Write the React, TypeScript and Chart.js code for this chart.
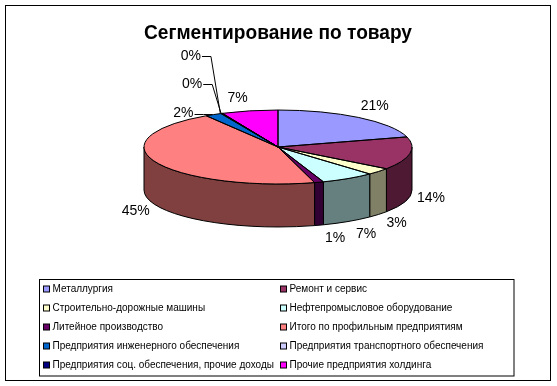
import { useEffect, useRef } from "react";
import { Chart, registerables } from "chart.js";

Chart.register(...registerables);

const titleText = "Сегментирование по товару";
const categories = [
  "Металлургия",
  "Ремонт и сервис",
  "Строительно-дорожные машины",
  "Нефтепромысловое оборудование",
  "Литейное производство",
  "Итого по профильным предприятиям",
  "Предприятия инженерного обеспечения",
  "Предприятия транспортного обеспечения",
  "Предприятия соц. обеспечения, прочие доходы",
  "Прочие предприятия холдинга",
];
const shares = [20.6, 14.4, 3.0, 6.5, 1.1, 45.4, 2.0, 0.1, 0.1, 6.8];
const topColors = ["#9999FF", "#993366", "#FFFFCC", "#CCFFFF", "#660066", "#FF8080", "#0066CC", "#CCCCFF", "#000080", "#FF00FF"];
const wallColors = ["#4D4D80", "#4D1933", "#808066", "#668080", "#330033", "#804040", "#003366", "#666680", "#000040", "#800080"];

// Label placement relative to the slice's rim point
const labelOffsets = [[16, -11], [21, 2], [18, 9], [18, 13], [16, 12.5], [-20, 6], [-30, -1], [-30.5, -57], [-30, -29], [-12, -13]];
const labelLeaders = [false, false, false, false, false, false, true, true, true, false];

const PIE_CY = 147;
const FLATTEN = 0.276;
const WALL = 43;
const FONT = '"Liberation Sans", Arial, sans-serif';

const norm = (a: number) => {
  const t = Math.PI * 2;
  return ((a % t) + t) % t;
};

const pie3d = {
  id: "pie3d",
  beforeDatasetsDraw(chart: any) {
    const { ctx } = chart;
    const arcs = chart.getDatasetMeta(0).data;
    ctx.save();
    ctx.strokeStyle = "#000";
    ctx.lineWidth = 1;
    arcs.forEach((arc: any, i: number) => {
      const r = arc.outerRadius;
      const cx = arc.x;
      // visible wall: angles 0..PI (arc angles run from -PI/2 to 3PI/2)
      const s = Math.max(arc.startAngle, 0);
      const e = Math.min(arc.endAngle, Math.PI);
      if (e <= s) return;
      ctx.beginPath();
      ctx.ellipse(cx, PIE_CY, r, r * FLATTEN, 0, s, e);
      ctx.ellipse(cx, PIE_CY + WALL, r, r * FLATTEN, 0, e, s, true);
      ctx.closePath();
      ctx.fillStyle = wallColors[i];
      ctx.fill();
      ctx.stroke();
    });
    ctx.restore();

    const first = arcs[0];
    ctx.save();
    ctx.translate(0, PIE_CY);
    ctx.scale(1, FLATTEN);
    ctx.translate(0, -first.y);
  },
  afterDatasetsDraw(chart: any) {
    const { ctx } = chart;
    ctx.restore();
    const arcs = chart.getDatasetMeta(0).data;
    ctx.save();
    ctx.strokeStyle = "#000";
    ctx.lineWidth = 1;
    arcs.forEach((arc: any) => {
      const r = arc.outerRadius;
      ctx.beginPath();
      ctx.moveTo(arc.x, PIE_CY);
      ctx.ellipse(arc.x, PIE_CY, r, r * FLATTEN, 0, arc.startAngle, arc.endAngle);
      ctx.closePath();
      ctx.stroke();
    });

    // percentage labels
    ctx.font = `14px ${FONT}`;
    ctx.fillStyle = "#000";
    ctx.textAlign = "center";
    ctx.textBaseline = "middle";
    arcs.forEach((arc: any, i: number) => {
      const mid = (arc.startAngle + arc.endAngle) / 2;
      const r = arc.outerRadius;
      const ex = arc.x + r * Math.cos(mid);
      const ey = PIE_CY + r * FLATTEN * Math.sin(mid);
      const lower = norm(mid) < Math.PI;
      const ax = ex + labelOffsets[i][0];
      const ay = ey + (lower ? WALL : 0) + labelOffsets[i][1];
      ctx.fillText(`${Math.round(shares[i])}%`, ax, ay);
      if (labelLeaders[i]) {
        const hw = ctx.measureText(`${Math.round(shares[i])}%`).width / 2;
        ctx.beginPath();
        ctx.moveTo(ax + hw + 1, Math.round(ay) + 0.5);
        ctx.lineTo(ax + hw + 10, Math.round(ay) + 0.5);
        ctx.lineTo(ex - 1, ey);
        ctx.stroke();
      }
    });
    ctx.restore();
  },
  afterDraw(chart: any) {
    const { ctx } = chart;
    ctx.save();
    ctx.strokeStyle = "#000";
    ctx.lineWidth = 1;
    ctx.strokeRect(5.5, 5.5, 545, 375);
    ctx.strokeRect(39.5, 279.5, 474.5, 96.5);
    ctx.font = `10px ${FONT}`;
    ctx.textAlign = "left";
    ctx.textBaseline = "middle";
    (chart.data.labels as string[]).forEach((label, i) => {
      const col = i % 2;
      const row = Math.floor(i / 2);
      const x = col === 0 ? 43.5 : 280.5;
      const y = 289.5 + row * 19;
      ctx.fillStyle = topColors[i];
      ctx.fillRect(x, y - 3.5, 6, 6);
      ctx.strokeRect(x, y - 3.5, 6, 6);
      ctx.fillStyle = "#000";
      ctx.fillText(label, x + 9, y);
    });
    ctx.restore();
  },
};

export default function App() {
  const ref = useRef<HTMLCanvasElement>(null);
  useEffect(() => {
    const chart = new Chart(ref.current as HTMLCanvasElement, {
      type: "pie",
      data: {
        labels: categories,
        datasets: [{ data: shares, backgroundColor: topColors, borderWidth: 0 }],
      },
      options: {
        responsive: false,
        animation: false,
        rotation: 0,
        layout: { padding: { left: 144, right: 145, top: 13, bottom: 40 } },
        plugins: {
          legend: { display: false },
          tooltip: { enabled: false },
          title: {
            display: true,
            text: titleText,
            color: "#000",
            font: { family: FONT, size: 20.5, weight: "bold" },
            padding: { top: 8, bottom: 8 },
          },
        },
      },
      plugins: [pie3d],
    } as any);
    return () => chart.destroy();
  }, []);
  return (
    <div style={{ position: "absolute", left: 0, top: 0, width: 557, height: 386, background: "#fff" }}>
      <canvas ref={ref} width={557} height={386} style={{ display: "block" }} />
    </div>
  );
}
